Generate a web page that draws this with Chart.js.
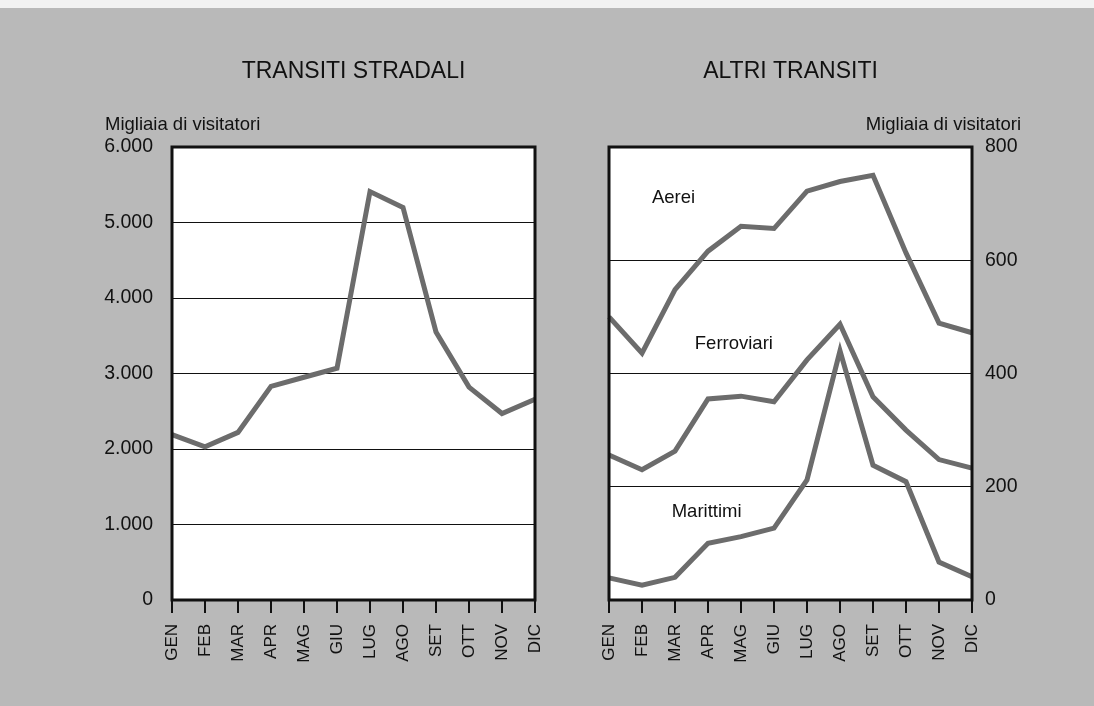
<!DOCTYPE html>
<html>
<head>
<meta charset="utf-8">
<script src="https://cdn.jsdelivr.net/npm/chart.js@4.4.0/dist/chart.umd.min.js"></script>
<style>
  html, body { margin: 0; padding: 0; }
  body { width: 1094px; height: 706px; background: #b9b9b9; position: relative; overflow: hidden; }
  #topStrip { position: absolute; left: 0; top: 0; width: 1094px; height: 8px; background: #f2f2f2; }
  canvas { position: absolute; top: 0; }
  #roadChart { left: 0; }
  #otherChart { left: 560px; }
</style>
</head>
<body>
<div id="topStrip"></div>
<canvas id="roadChart" width="560" height="706"></canvas>
<canvas id="otherChart" width="534" height="706"></canvas>
<script>
const months = ['GEN', 'FEB', 'MAR', 'APR', 'MAG', 'GIU', 'LUG', 'AGO', 'SET', 'OTT', 'NOV', 'DIC']

// migliaia di visitatori
const stradali = [2190, 2030, 2220, 2830, 2950, 3070, 5410, 5200, 3550, 2820, 2470, 2660]
const aerei = [500, 436, 548, 616, 660, 656, 722, 739, 750, 613, 489, 472]
const ferroviari = [256, 230, 263, 355, 360, 350, 424, 487, 359, 300, 248, 233]
const marittimi = [39, 26, 40, 100, 112, 127, 212, 440, 238, 209, 67, 41]

const roadTicks = { min: 0, max: 6000, step: 1000 }
const otherTicks = { min: 0, max: 800, step: 200 }

// label anchors: [name, month index, value]
const seriesLabels = [
    ['Aerei', 1.3, 710],
    ['Ferroviari', 2.6, 452],
    ['Marittimi', 1.9, 155]
]

const FONT = '"Liberation Sans", Arial, Helvetica, sans-serif'
const INK = '#111111'
const LINE = '#6c6c6c'

Chart.defaults.font.family = FONT
Chart.defaults.color = INK

const formatThousands = (v) => String(v).replace(/\B(?=(\d{3})+(?!\d))/g, '.')

const framePlugin = {
    id: 'frame',
    beforeDraw: (chart) => {
        const { ctx, chartArea: a } = chart
        ctx.save()
        ctx.fillStyle = '#ffffff'
        ctx.fillRect(a.left, a.top, a.right - a.left, a.bottom - a.top)
        ctx.restore()
    },
    afterDraw: (chart) => {
        const { ctx, chartArea: a } = chart
        ctx.save()
        ctx.strokeStyle = INK
        ctx.lineWidth = 3
        ctx.strokeRect(a.left, a.top, a.right - a.left, a.bottom - a.top)
        ctx.restore()
    }
}

const createTextPlugin = (title, unitX, unitAlign, labels) => ({
    id: 'texts',
    afterDraw: (chart) => {
        const { ctx, chartArea: a, scales: { x, y } } = chart
        ctx.save()
        ctx.fillStyle = INK

        ctx.font = `23px ${FONT}`
        ctx.textAlign = 'center'
        ctx.textBaseline = 'alphabetic'
        ctx.fillText(title, (a.left + a.right) / 2, 78)

        ctx.font = `18.5px ${FONT}`
        ctx.textAlign = unitAlign
        ctx.fillText('Migliaia di visitatori', unitX, 130)

        ctx.font = `18.5px ${FONT}`
        ctx.textAlign = 'left'
        ctx.textBaseline = 'middle'
        labels.forEach(([name, idx, val]) => {
            ctx.fillText(name, x.getPixelForValue(idx), y.getPixelForValue(val))
        })
        ctx.restore()
    }
})

const lineDataset = (data) => ({
    data,
    borderColor: LINE,
    borderWidth: 5,
    pointRadius: 0,
    tension: 0,
    fill: false
})

const xScale = () => ({
    grid: { drawOnChartArea: false, drawTicks: true, tickLength: 13, color: INK, lineWidth: 2 },
    border: { display: false },
    ticks: { minRotation: 90, maxRotation: 90, autoSkip: false, padding: 11, font: { size: 17 }, color: INK },
    afterFit: (scale) => {
        scale.height = 106
        scale.paddingLeft = 0
        scale.paddingRight = 0
    }
})

const yScale = (range, position, width, padding) => ({
    position,
    min: range.min,
    max: range.max,
    ticks: {
        stepSize: range.step,
        padding,
        font: { size: 19.5 },
        color: INK,
        callback: (v) => formatThousands(v)
    },
    grid: {
        drawTicks: false,
        lineWidth: 1,
        color: (c) => (c.tick.value === range.min || c.tick.value === range.max) ? 'rgba(0,0,0,0)' : INK
    },
    border: { display: false },
    afterFit: (scale) => {
        scale.width = width
        scale.paddingTop = 0
        scale.paddingBottom = 0
    }
})

new Chart(document.getElementById('roadChart').getContext('2d'), {
    type: 'line',
    data: { labels: months, datasets: [lineDataset(stradali)] },
    options: {
        responsive: false,
        animation: false,
        layout: { padding: { left: 0, right: 25, top: 147, bottom: 0 } },
        plugins: { legend: { display: false }, tooltip: { enabled: false } },
        scales: {
            x: xScale(),
            y: yScale(roadTicks, 'left', 172, 19)
        }
    },
    plugins: [framePlugin, createTextPlugin('TRANSITI STRADALI', 105, 'left', [])]
})

new Chart(document.getElementById('otherChart').getContext('2d'), {
    type: 'line',
    data: {
        labels: months,
        datasets: [lineDataset(aerei), lineDataset(ferroviari), lineDataset(marittimi)]
    },
    options: {
        responsive: false,
        animation: false,
        layout: { padding: { left: 49, right: 0, top: 147, bottom: 0 } },
        plugins: { legend: { display: false }, tooltip: { enabled: false } },
        scales: {
            x: xScale(),
            y: yScale(otherTicks, 'right', 122, 13)
        }
    },
    plugins: [framePlugin, createTextPlugin('ALTRI TRANSITI', 461, 'right', seriesLabels)]
})
</script>
</body>
</html>
